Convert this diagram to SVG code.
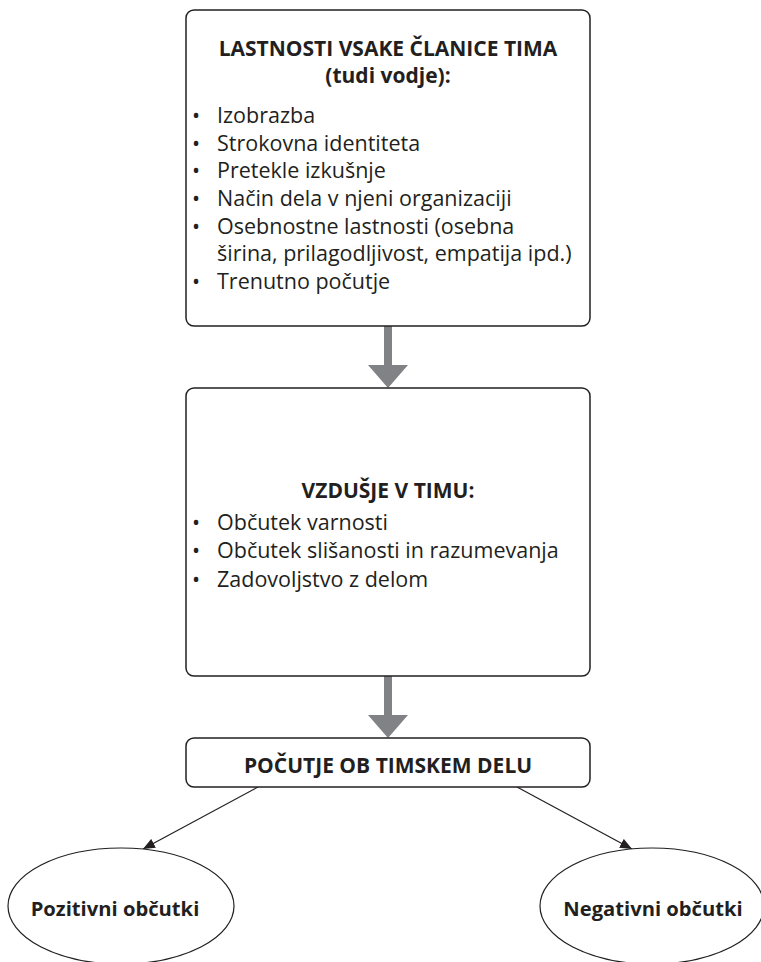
<svg xmlns="http://www.w3.org/2000/svg" width="761" height="962" viewBox="0 0 761 962">
  <defs>
    <style>
      .box { fill: #ffffff; stroke: #231f20; stroke-width: 1.5; }
      .oval { fill: #ffffff; stroke: #231f20; stroke-width: 1.2; }
      .t { font-family: "Open Sans", "Noto Sans", "DejaVu Sans", sans-serif; font-size: 21.5px; fill: #231f20; }
      .b { font-weight: bold; font-size: 21px; }
      .e { font-weight: bold; font-size: 20.2px; }
      .c { text-anchor: middle; }
      .flow { fill: #808285; }
      .link { stroke: #231f20; stroke-width: 1.2; fill: none; marker-end: url(#head); }
    </style>
    <marker id="head" viewBox="0 0 12 10" refX="12" refY="5" markerWidth="12" markerHeight="10" markerUnits="userSpaceOnUse" orient="auto">
      <path d="M0,0 L12,5 L0,10 Z" fill="#231f20"/>
    </marker>
  </defs>

  <rect width="761" height="962" fill="#ffffff"/>

  <!-- connectors -->
  <g id="connectors">
    <path class="flow" d="M384,326 H392 V365 H408 L388,388 L368,365 H384 Z"/>
    <path class="flow" d="M384,676 H392 V715 H408 L388,738 L368,715 H384 Z"/>
    <line class="link" x1="258" y1="787" x2="143" y2="849"/>
    <line class="link" x1="517" y1="787" x2="632" y2="849"/>
  </g>

  <!-- member attributes -->
  <g id="lastnosti">
    <rect class="box" x="186" y="10" width="404" height="316" rx="8"/>
    <text class="t b c" x="388" y="56">LASTNOSTI VSAKE ČLANICE TIMA</text>
    <text class="t b c" x="388" y="83">(tudi vodje):</text>
    <text class="t" x="192" y="123">•</text><text class="t" x="217" y="123">Izobrazba</text>
    <text class="t" x="192" y="151">•</text><text class="t" x="217" y="151">Strokovna identiteta</text>
    <text class="t" x="192" y="178">•</text><text class="t" x="217" y="178">Pretekle izkušnje</text>
    <text class="t" x="192" y="206">•</text><text class="t" x="217" y="206">Način dela v njeni organizaciji</text>
    <text class="t" x="192" y="234">•</text><text class="t" x="217" y="234">Osebnostne lastnosti (osebna</text>
    <text class="t" x="217" y="261">širina, prilagodljivost, empatija ipd.)</text>
    <text class="t" x="192" y="289">•</text><text class="t" x="217" y="289">Trenutno počutje</text>
  </g>

  <!-- team atmosphere -->
  <g id="vzdusje">
    <rect class="box" x="186" y="388" width="404" height="288" rx="8"/>
    <text class="t b c" x="388" y="498">VZDUŠJE V TIMU:</text>
    <text class="t" x="192" y="530">•</text><text class="t" x="217" y="530">Občutek varnosti</text>
    <text class="t" x="192" y="558">•</text><text class="t" x="217" y="558">Občutek slišanosti in razumevanja</text>
    <text class="t" x="192" y="587">•</text><text class="t" x="217" y="587">Zadovoljstvo z delom</text>
  </g>

  <!-- wellbeing in teamwork -->
  <g id="pocutje">
    <rect class="box" x="186" y="738" width="404" height="49" rx="8"/>
    <text class="t b c" x="388" y="773">POČUTJE OB TIMSKEM DELU</text>
  </g>

  <g id="pozitivni">
    <ellipse class="oval" cx="121" cy="906" rx="113" ry="58"/>
    <text class="t e c" x="115" y="916">Pozitivni občutki</text>
  </g>

  <g id="negativni">
    <ellipse class="oval" cx="652" cy="906" rx="112" ry="58"/>
    <text class="t e c" x="653" y="916">Negativni občutki</text>
  </g>
</svg>
